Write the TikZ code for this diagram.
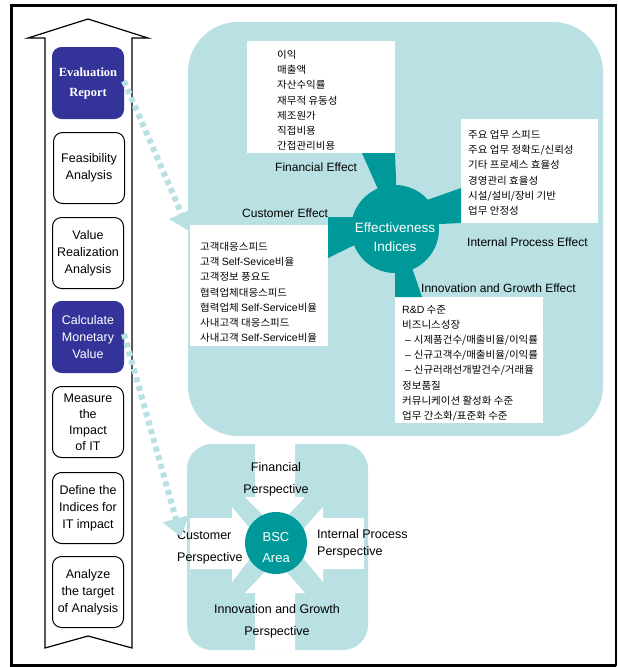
\documentclass[tikz,border=0pt]{standalone}
\usepackage{fontspec}
\setmainfont{Liberation Sans}
\newfontfamily\krfont[FakeStretch=1.05]{Noto Sans CJK KR}
\newfontfamily\serfont{Liberation Serif}
\newcommand\lat[1]{{\rmfamily\fontsize{10.5}{15.2}\selectfont #1}}
\usetikzlibrary{arrows.meta}

\definecolor{paleteal}{RGB}{185,224,227}
\definecolor{deepteal}{RGB}{0,153,153}
\definecolor{navy}{RGB}{51,51,153}

\tikzset{
  stepbox/.style={draw=black, line width=1pt, rounded corners=9pt, fill=white,
    minimum width=71pt, minimum height=71pt, inner sep=1pt, align=center,
    font=\fontsize{12.5}{17}\selectfont},
  navybox/.style={stepbox, draw=navy, fill=navy, text=white},
  krlist/.style={anchor=north west, inner sep=0pt, align=left,
    font=\krfont\fontsize{10}{15.2}\selectfont},
  whitepanel/.style={fill=white},
  effectlabel/.style={inner sep=0pt, font=\fontsize{12}{14}\selectfont},
  persplabel/.style={inner sep=0pt, font=\fontsize{12.5}{22}\selectfont},
  hub/.style={circle, fill=deepteal, text=white, inner sep=0pt, align=center},
  wedge/.style={fill=deepteal},
  dotlink/.style={draw=paleteal, line width=6pt, dash pattern=on 5pt off 4pt,
    -{Triangle[width=26pt,length=19pt,fill=paleteal]}},
  blockarrow/.style={fill=white}
}

\begin{document}
\begin{tikzpicture}[x=1pt,y=-1pt]
\useasboundingbox (0,0) rectangle (618,667);

% outer frame
\draw[line width=3pt] (616,5) -- (11,5) -- (11,665) -- (616,665);
\draw[line width=2pt] (616,4) -- (616,666);

% process arrow running upward
\draw[line width=1.2pt, line join=miter, fill=white]
  (45,38) -- (28,38) -- (88,19) -- (148,38) -- (132,38) -- (132,648)
  -- (88,636) -- (45,648) -- cycle;

% process steps
\node[navybox, font=\serfont\bfseries\fontsize{12.5}{20}\selectfont] (eval) at (88,83) {Evaluation\\Report};
\node[stepbox] (feas) at (89,168) {Feasibility\\Analysis};
\node[stepbox] (value) at (88,253) {Value\\Realization\\Analysis};
\node[navybox] (calc) at (88,337) {Calculate\\Monetary\\Value};
\node[stepbox, font=\fontsize{12.5}{16}\selectfont] (impact) at (88,422) {Measure\\the\\Impact\\of IT};
\node[stepbox] (define) at (88,508) {Define the\\Indices for\\IT impact};
\node[stepbox] (analyze) at (88,592) {Analyze\\the target\\of Analysis};

% effectiveness panel
\fill[paleteal, rounded corners=50pt] (188,22) rectangle (603,436);

% index lists
\fill[whitepanel] (247,41) rectangle (395,153);
\fill[whitepanel] (461,119) rectangle (598,223);
\fill[whitepanel] (190,225) rectangle (328,346);
\fill[whitepanel] (395,297) rectangle (543,423);

% wedges joining the hub to each list
\fill[wedge] (362,153) -- (395,153) -- (397,205) -- (385,205) -- cycle;
\fill[wedge] (461,188) -- (461,223) -- (420,225) -- (413,205) -- cycle;
\fill[wedge] (328,217) -- (328,258) -- (375,235) -- (370,217) -- cycle;
\fill[wedge] (395,297) -- (422,297) -- (410,262) -- (395,262) -- cycle;

\node[hub, minimum size=88pt] (hub) at (395,229) {};
\node[text=white, inner sep=0pt, align=center, font=\fontsize{13.5}{19}\selectfont] (hubtext) at (395,237) {Effectiveness\\Indices};

\node[krlist] (finlist) at (277,50) {이익\\매출액\\자산수익률\\재무적 유동성\\제조원가\\직접비용\\간접관리비용};
\node[krlist] (intlist) at (468,130) {주요 업무 스피드\\주요 업무 정확도/신뢰성\\기타 프로세스 효율성\\경영관리 효율성\\시설/설비/장비 기반\\업무 안정성};
\node[krlist] (cuslist) at (200,242) {고객대응스피드\\고객 \lat{Self-Sevice}비율\\고객정보 풍요도\\협력업체대응스피드\\협력업체 \lat{Self-Service}비율\\사내고객 대응스피드\\사내고객 \lat{Self-Service}비율};
\node[krlist] (innlist) at (402,305) {\lat{R\&D} 수준\\비즈니스성장\\\lat{\ – }시제품건수/매출비율/이익률\\\lat{\ – }신규고객수/매출비율/이익률\\\lat{\ – }신규러래선개발건수/거래율\\정보품질\\커뮤니케이션 활성화 수준\\업무 간소화/표준화 수준};

\node[effectlabel, anchor=west] (finlab) at (275,167) {Financial Effect};
\node[effectlabel, anchor=west] (cuslab) at (242,213) {Customer Effect};
\node[effectlabel, anchor=west] (intlab) at (467,242) {Internal Process Effect};
\node[effectlabel, anchor=west] (innlab) at (421,288) {Innovation and Growth Effect};

% BSC panel
\fill[paleteal, rounded corners=25pt] (187,444) rectangle (368,650);
\fill[blockarrow] (255,444) -- (295,444) -- (295,497) -- (305,497) -- (276,528)
  -- (245,497) -- (255,497) -- cycle;
\fill[blockarrow] (255,650) -- (295,650) -- (295,593) -- (305,593) -- (276,560)
  -- (245,593) -- (255,593) -- cycle;
\fill[blockarrow] (190,518) -- (232,518) -- (232,507) -- (262,543) -- (232,582)
  -- (232,569) -- (190,569) -- cycle;
\fill[blockarrow] (364,518) -- (323,518) -- (323,507) -- (291,543) -- (323,582)
  -- (323,569) -- (364,569) -- cycle;

\node[hub, minimum size=62pt] (bsc) at (276,543) {};
\node[text=white, inner sep=0pt, align=center, font=\fontsize{13}{21}\selectfont] (bsctext) at (276,548) {BSC\\Area};

\node[persplabel, align=center] (finp) at (276,479) {Financial\\Perspective};
\node[persplabel, align=left, anchor=west] (cusp) at (177,547) {Customer\\Perspective};
\node[persplabel, align=left, anchor=west, font=\fontsize{12.5}{17}\selectfont] (intp) at (317,544) {Internal Process\\Perspective};
\node[persplabel, align=center] (innp) at (277,621) {Innovation and Growth\\Perspective};

% dotted links from the process steps
\coordinate (evaltip) at (189,231);
\coordinate (calctip) at (181,537);
\draw[dotlink] ([yshift=2pt]eval.east) -- (evaltip);
\draw[dotlink] ([yshift=3pt]calc.east) -- (calctip);
\end{tikzpicture}
\end{document}
